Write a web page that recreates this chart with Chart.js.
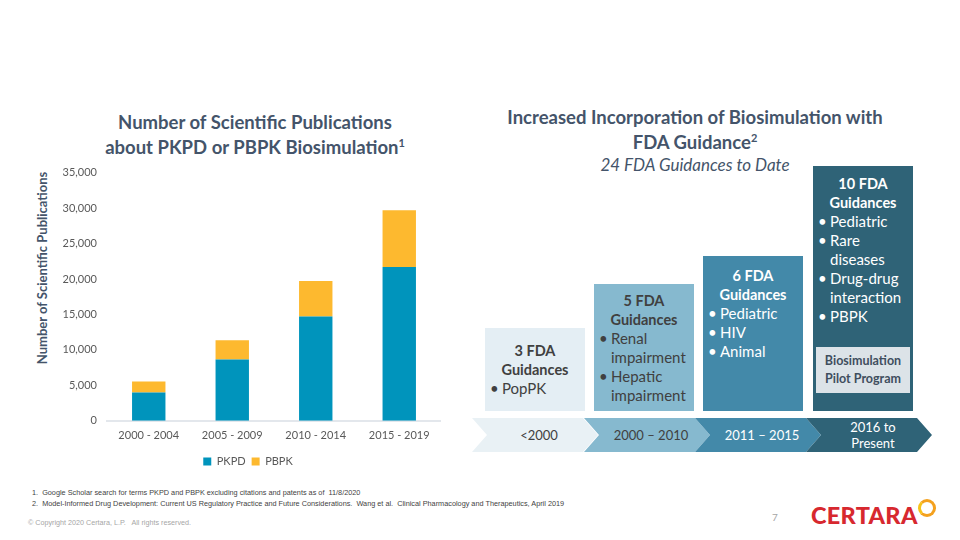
<!DOCTYPE html>
<html>
<head>
<meta charset="utf-8">
<script src="https://cdn.jsdelivr.net/npm/chart.js@4.4.1/dist/chart.umd.min.js"></script>
<style>
  body { margin: 0; width: 960px; height: 540px; position: relative; overflow: hidden; background: #fff;
         font-family: Lato, "Open Sans", sans-serif; color: #44546A; }
  .title { position: absolute; font-weight: 700; font-size: 18.5px; line-height: 25px; text-align: center; color: #44546A; }
  .title sup { font-size: 11px; vertical-align: 7px; line-height: 0; }
  #leftTitle { left: 60px; width: 390px; top: 110px; }
  #rightTitle { left: 480px; width: 430px; top: 105px; }
  #subTitle { position: absolute; left: 480px; width: 430px; top: 154px; text-align: center;
              font-style: italic; font-size: 17px; color: #44546A; }
  #yTitle { position: absolute; left: 42px; top: 268px; transform: translate(-50%, -50%) rotate(-90deg);
            white-space: nowrap; font-weight: 700; font-size: 13px; color: #44546A; }
  #chartBox { position: absolute; left: 55px; top: 156px; width: 386px; height: 321px; }

  .box { position: absolute; width: 100px; bottom: 129px; box-sizing: border-box; font-size: 15px; line-height: 19px;
         display: flex; flex-direction: column; }
  .box .head { font-weight: 700; text-align: center; font-size: 14.5px; }
  .box ul { list-style: none; margin: 0; padding: 0 0 0 17px; }
  .box li { position: relative; }
  .box li::before { content: "\2022"; position: absolute; left: -12px; }
  .pilot { margin: 21px 3px 0 3px; background: #DCE3E8; color: #3F4E5E; font-weight: 700; font-size: 12.5px;
           line-height: 18px; text-align: center; padding: 5px 0; }

  .chev { position: absolute; top: 418px; height: 34px; width: 126px; display: flex; align-items: center;
          justify-content: center; text-align: center; font-size: 13px; line-height: 16px;
          clip-path: polygon(0 0, 111px 0, 126px 50%, 111px 100%, 0 100%, 15px 50%); }
  .chev span { padding-left: 8px; }

  .notes { position: absolute; left: 32px; top: 487px; font-size: 7.3px; line-height: 11px; color: #3F3F3F;
           font-family: "Liberation Sans", sans-serif; }
  .copy { position: absolute; left: 28px; top: 518px; font-size: 7.2px; color: #A6A6A6; font-family: "Liberation Sans", sans-serif; }
  .page { position: absolute; left: 772px; top: 511px; font-size: 10px; color: #A6A6A6; }
  .logo { position: absolute; left: 811px; top: 501px; font-size: 23.5px; font-weight: 900; color: #D7282F; letter-spacing: 0.3px; }
  .ring { position: absolute; left: 918px; top: 499px; width: 12px; height: 12px; border-radius: 50%;
          border: 3px solid #F4A11E; border-left-color: #F7C31A; }
</style>
</head>
<body>

<div class="title" id="leftTitle">Number of Scientific Publications<br>about PKPD or PBPK Biosimulation<sup>1</sup></div>
<div id="yTitle">Number of Scientific Publications</div>
<div id="chartBox"><canvas id="pubChart"></canvas></div>

<div class="title" id="rightTitle">Increased Incorporation of Biosimulation with<br>FDA Guidance<sup>2</sup></div>
<div id="subTitle">24 FDA Guidances to Date</div>
<div id="diagram"></div>

<div class="notes">1.&nbsp; Google Scholar search for terms PKPD and PBPK excluding citations and patents as of&nbsp; 11/8/2020<br>
2.&nbsp; Model-Informed Drug Development: Current US Regulatory Practice and Future Considerations.&nbsp; Wang et al.&nbsp; Clinical Pharmacology and Therapeutics, April 2019</div>
<div class="copy">© Copyright 2020 Certara, L.P.&nbsp;&nbsp; All rights reserved.</div>
<div class="page">7</div>
<div class="logo">CERTARA</div>
<div class="ring"></div>

<script>
const periods = ["2000 - 2004", "2005 - 2009", "2010 - 2014", "2015 - 2019"];
const pkpd = [4000, 8650, 14700, 21700];
const pbpk = [1550, 2700, 5000, 8000];

const eras = ["<2000", "2000 – 2010", "2011 – 2015", "2016 to<br>Present"];
const guidanceCounts = [3, 5, 6, 10];
const guidanceTopics = [
  ["PopPK"],
  ["Renal impairment", "Hepatic impairment"],
  ["Pediatric", "HIV", "Animal"],
  ["Pediatric", "Rare diseases", "Drug-drug interaction", "PBPK"]
];

// staircase boxes + chevrons
const boxLeft = [485, 594, 703, 813];
const boxTop = [328, 284, 256, 166];
const fills = ["#E4EEF4", "#86B9CF", "#4389A9", "#2F6377"];
const inks = ["#404040", "#404040", "#FFFFFF", "#FFFFFF"];
const chevLeft = [472, 584, 695, 806];

const diagram = document.getElementById("diagram");
guidanceCounts.forEach((n, i) => {
  const box = document.createElement("div");
  box.className = "box";
  box.style.left = boxLeft[i] + "px";
  box.style.top = boxTop[i] + "px";
  box.style.background = fills[i];
  box.style.color = inks[i];
  box.style.justifyContent = i < 2 ? "center" : "flex-start";
  box.style.paddingTop = i < 2 ? "0" : (i == 2 ? "10px" : "8px");
  let html = `<div class="head">${n} FDA<br>Guidances</div><ul>`;
  guidanceTopics[i].forEach(t => { html += `<li>${t}</li>`; });
  html += "</ul>";
  if (i == 3) html += `<div class="pilot">Biosimulation<br>Pilot Program</div>`;
  box.innerHTML = html;
  diagram.appendChild(box);

  const chev = document.createElement("div");
  chev.className = "chev";
  chev.style.left = chevLeft[i] + "px";
  chev.style.background = i == 0 ? "#E9F1F5" : fills[i];
  chev.style.color = inks[i];
  chev.innerHTML = `<span>${eras[i]}</span>`;
  diagram.appendChild(chev);
});

// bar chart
new Chart(document.getElementById("pubChart"), {
  type: "bar",
  data: {
    labels: periods,
    datasets: [
      { label: "PKPD", data: pkpd, backgroundColor: "#0094BC", barPercentage: 0.4, categoryPercentage: 1 },
      { label: "PBPK", data: pbpk, backgroundColor: "#FDB92F", barPercentage: 0.4, categoryPercentage: 1 }
    ]
  },
  options: {
    responsive: true,
    maintainAspectRatio: false,
    animation: false,
    layout: { padding: { top: 4, right: 0, bottom: 0, left: 0 } },
    plugins: {
      tooltip: { enabled: false },
      legend: {
        position: "bottom",
        labels: { boxWidth: 8, boxHeight: 8, padding: 6, color: "#595959",
                  font: { family: "Lato", size: 11 } }
      }
    },
    scales: {
      x: {
        stacked: true,
        grid: { display: false, drawTicks: false },
        border: { color: "#E3E7EC", width: 2 },
        ticks: { color: "#595959", font: { family: "Lato", size: 11 }, padding: 8 }
      },
      y: {
        stacked: true,
        min: 0,
        max: 35000,
        afterFit: scale => { scale.width = 52; },
        grid: { display: false, drawTicks: false },
        border: { display: false },
        ticks: {
          stepSize: 5000,
          padding: 10,
          color: "#595959",
          font: { family: "Lato", size: 11 },
          callback: v => v.toLocaleString("en-US")
        }
      }
    }
  }
});
</script>
</body>
</html>
